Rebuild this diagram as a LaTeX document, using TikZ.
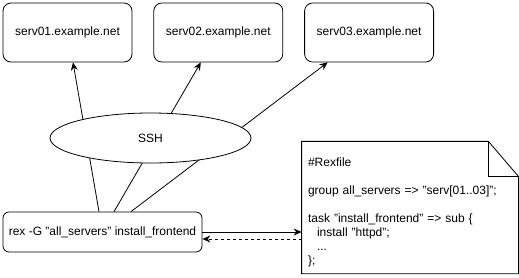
\documentclass[tikz,border=0pt]{standalone}
\usepackage{fontspec}
\setmainfont{Liberation Sans}
\usepackage{tikz}
\usetikzlibrary{positioning,arrows.meta,shapes.geometric}

\begin{document}
\begin{tikzpicture}[
x=1pt,y=-1pt,
line width=0.8pt,
font=\fontsize{12}{14}\selectfont,
node distance=21pt,
server/.style={draw,rounded corners=8pt,minimum width=129pt,minimum height=59pt,inner sep=0pt},
cmd/.style={draw,rounded corners=6pt,minimum width=199pt,minimum height=40pt,inner sep=0pt},
arrow/.style={-{Stealth[length=8pt,width=7pt]}}
]
\useasboundingbox (0,0) rectangle (519,277);
\node[server] (s1) at (67.5,32.5) {serv01.example.net};
\node[server, right=of s1] (s2) {serv02.example.net};
\node[server, right=of s2] (s3) {serv03.example.net};
\node[cmd] (rex) at (102.5,232) {rex -G "all\_servers" install\_frontend};
\node[minimum width=216pt,minimum height=125pt,inner sep=6pt,text width=204pt,align=left] (rexfile) at (410,207.5)
  {\rule{0pt}{19pt}\#Rexfile\\[14pt]
   group all\_servers => "serv[01..03]";\\[14pt]
   task "install\_frontend" => sub \{\\
   \hspace*{9pt}install "httpd";\\
   \hspace*{9pt}...\\
   \};};
% note outline with folded corner
\draw (rexfile.south west) -- (rexfile.north west) -- ([xshift=-30pt]rexfile.north east)
  -- ([yshift=-35pt]rexfile.north east) -- (rexfile.south east) -- cycle;
\draw ([xshift=-30pt]rexfile.north east) |- ([yshift=-35pt]rexfile.north east);
% ssh links
\draw[arrow] ([xshift=-3.5pt]rex.north) -- ([xshift=5.5pt]s1.south);
\draw[arrow] ([xshift=11.5pt]rex.north) -- ([xshift=-17.5pt]s2.south);
\draw[arrow] ([xshift=28.5pt]rex.north) -- ([xshift=-41.5pt]s3.south);
\node[draw,ellipse,fill=white,minimum width=201pt,minimum height=50pt] (ssh) at (150.5,138) {SSH};
% reading the Rexfile
\draw[arrow] (rex.east) -- (rex.east -| rexfile.west);
\coordinate (back) at ([yshift=-7pt]rex.east);
\draw[arrow,dashed] (back -| rexfile.west) -- (back);
\end{tikzpicture}
\end{document}
